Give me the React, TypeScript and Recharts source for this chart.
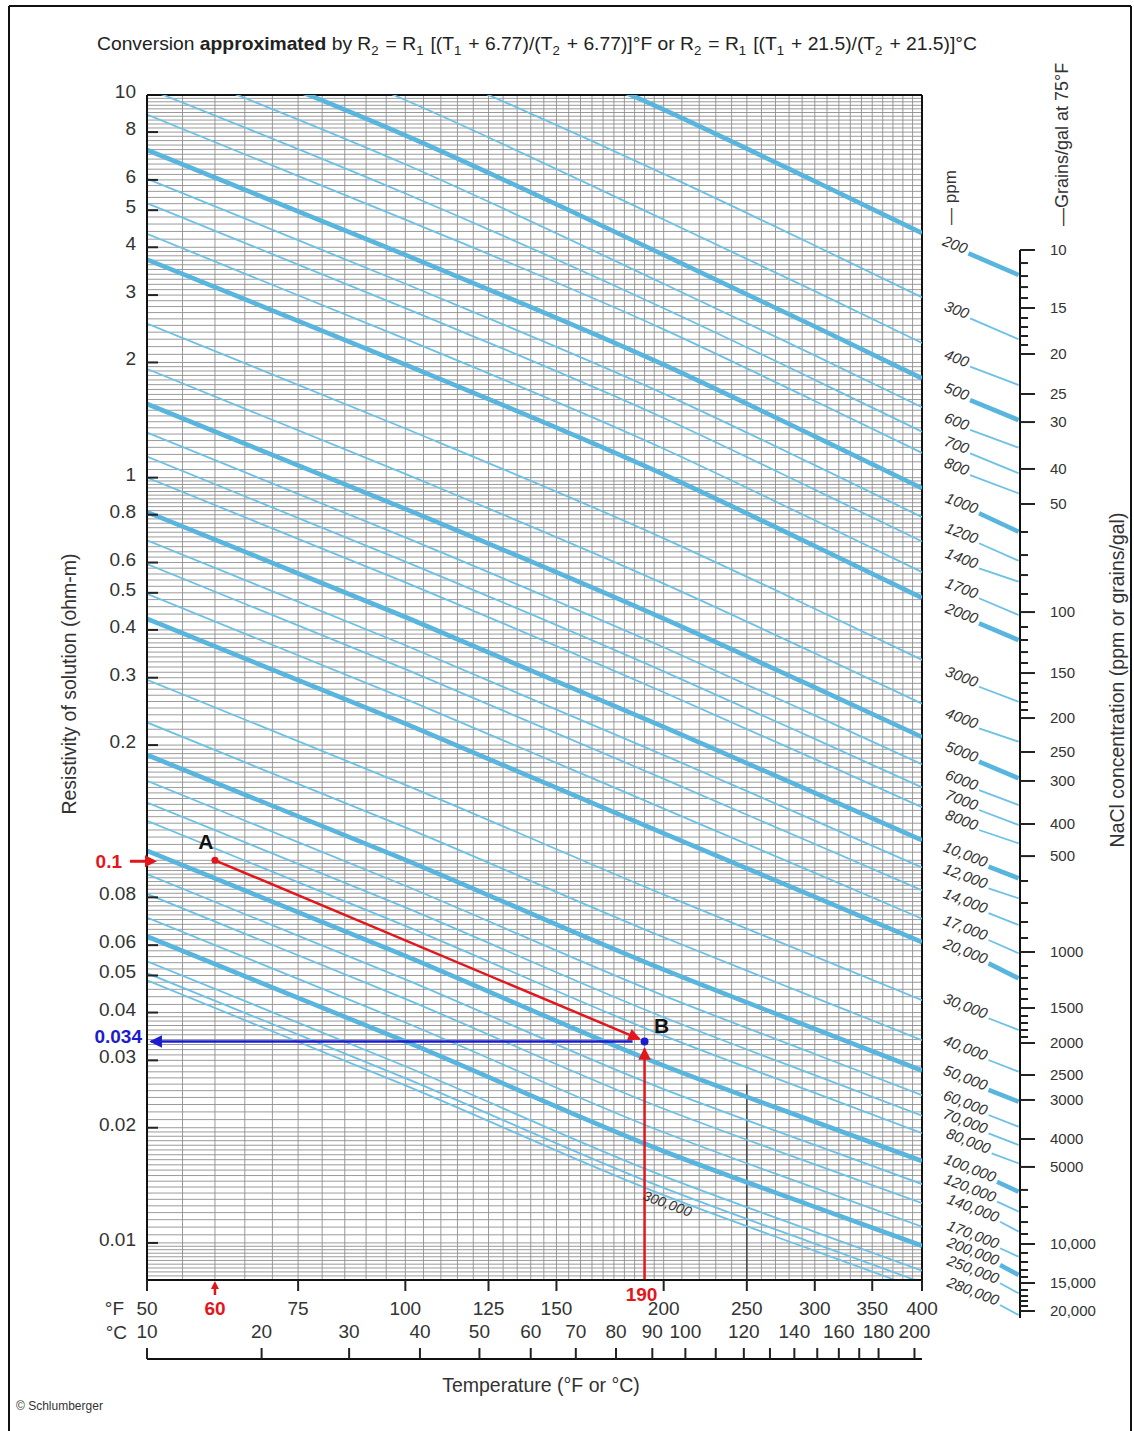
import React from 'react';
import { LineChart, Line, XAxis, YAxis, ReferenceLine } from 'recharts';

const W = 1134;
const H = 1431;
const FONT = '"Liberation Sans", Arial, Helvetica, sans-serif';
const RED = '#e3161c';
const BLUE = '#1b1bd0';
const THICK = '#58b5de';
const THIN = '#6cc1e6';
const GRID = '#8f8f8f';

// Temperatures (°F) at which each concentration curve was read
const curveTemps = [50, 100, 200, 300, 400];

// NaCl concentration of each curve (ppm)
const concentrations = [
  200, 300, 400, 500, 600, 700, 800, 1000, 1200, 1400, 1700, 2000, 3000, 4000, 5000, 6000, 7000, 8000,
  10000, 12000, 14000, 17000, 20000, 30000, 40000, 50000, 60000, 70000, 80000, 100000, 120000, 140000,
  170000, 200000, 250000, 280000, 300000,
];

// Curves drawn with a heavy line
const boldConcentrations = [200, 500, 1000, 2000, 5000, 10000, 20000, 50000, 100000, 200000];

// Resistivity (ohm-m) of each curve at curveTemps
const curveResistivity = [
  [33.35, 17.73, 9.156, 5.95, 4.355],
  [23.34, 12.41, 6.221, 4.043, 2.959],
  [18.25, 9.702, 4.726, 3.071, 2.248],
  [14.75, 7.843, 3.821, 2.483, 1.818],
  [12.4, 6.591, 3.211, 2.087, 1.528],
  [10.4, 5.529, 2.772, 1.801, 1.319],
  [8.889, 4.726, 2.441, 1.586, 1.161],
  [7.185, 3.82, 1.973, 1.282, 0.9384],
  [6.04, 3.211, 1.658, 1.078, 0.7889],
  [5.216, 2.773, 1.432, 0.9306, 0.6813],
  [4.336, 2.305, 1.19, 0.7736, 0.5663],
  [3.715, 1.975, 1.02, 0.6628, 0.4852],
  [2.528, 1.344, 0.6941, 0.4543, 0.3341],
  [1.924, 1.023, 0.5284, 0.3476, 0.2567],
  [1.558, 0.8287, 0.4279, 0.283, 0.2099],
  [1.312, 0.6977, 0.3603, 0.2392, 0.1782],
  [1.135, 0.6035, 0.3117, 0.2076, 0.1551],
  [1.001, 0.5323, 0.2749, 0.1838, 0.1376],
  [0.813, 0.4323, 0.2232, 0.15, 0.1128],
  [0.6859, 0.3647, 0.1883, 0.127, 0.09572],
  [0.5943, 0.316, 0.1632, 0.1103, 0.08343],
  [0.4968, 0.2642, 0.1364, 0.09268, 0.07036],
  [0.4278, 0.2275, 0.1175, 0.08022, 0.06112],
  [0.2961, 0.1575, 0.08131, 0.05607, 0.0431],
  [0.2292, 0.1219, 0.06292, 0.04377, 0.03387],
  [0.1885, 0.1003, 0.05177, 0.03626, 0.02821],
  [0.1613, 0.08578, 0.0443, 0.03117, 0.02434],
  [0.1416, 0.07529, 0.03888, 0.02744, 0.0215],
  [0.1268, 0.0674, 0.0348, 0.02466, 0.01935],
  [0.1059, 0.05629, 0.02907, 0.02073, 0.01637],
  [0.0919, 0.04886, 0.02523, 0.01803, 0.01425],
  [0.08167, 0.04343, 0.02242, 0.01604, 0.0127],
  [0.07087, 0.03768, 0.01946, 0.01392, 0.01102],
  [0.06323, 0.03362, 0.01736, 0.01242, 0.00983],
  [0.05445, 0.02895, 0.01495, 0.01069, 0.008463],
  [0.0507, 0.02696, 0.01392, 0.009958, 0.007881],
  [0.04854, 0.02581, 0.01333, 0.009534, 0.007545],
];

// Short extension segments feeding the concentration scale (right nomograph)
const segStartTemp = [
  453, 455, 455, 455, 455, 455, 455, 466, 466, 466, 466, 466, 466, 466, 466, 466, 466, 466,
  478, 478, 478, 478, 478, 478, 478, 478, 478, 478, 482, 489, 489, 493, 493, 493, 493, 493,
];
const segEndTemp = 518;
const segStartR = [
  3.862, 2.612, 1.953, 1.598, 1.335, 1.16, 1.018, 0.809, 0.6754, 0.581, 0.4853, 0.4174, 0.2851, 0.2221,
  0.1817, 0.1532, 0.1359, 0.1205, 0.09663, 0.08486, 0.07313, 0.0622, 0.05404, 0.03885, 0.03023, 0.02525,
  0.02172, 0.01945, 0.01725, 0.01454, 0.0129, 0.01143, 0.009745, 0.008814, 0.007897, 0.00693,
];
const segEndR = [
  3.389, 2.303, 1.749, 1.417, 1.2, 1.029, 0.9122, 0.7241, 0.6083, 0.5362, 0.4388, 0.3775, 0.2605, 0.2049,
  0.1644, 0.14, 0.1242, 0.1112, 0.09013, 0.0799, 0.06806, 0.05741, 0.04939, 0.0362, 0.02818, 0.02352,
  0.02024, 0.01813, 0.01624, 0.01369, 0.01215, 0.01077, 0.009265, 0.008299, 0.007435, 0.006525,
];

// Grains/gal scale: tick values and the resistivity level each sits at
const grainTicks = [
  10, 11, 12, 13, 14, 15, 16, 17, 18, 19, 20, 25, 30, 40, 50, 60, 70, 80, 90, 100, 110, 120, 130, 140, 150,
  160, 170, 180, 190, 200, 250, 300, 400, 500, 600, 700, 800, 900, 1000, 1100, 1200, 1300, 1400, 1500,
  1600, 1700, 1800, 1900, 2000, 2500, 3000, 4000, 5000, 6000, 7000, 8000, 9000, 10000, 11000, 12000,
  13000, 14000, 15000, 16000, 17000, 18000, 19000, 20000,
];
const grainTickR = [
  3.939, 3.642, 3.368, 3.152, 2.951, 2.779, 2.617, 2.479, 2.349, 2.225, 2.108, 1.657, 1.4, 1.056, 0.8554,
  0.7228, 0.6293, 0.558, 0.498, 0.4467, 0.4083, 0.3776, 0.3512, 0.3288, 0.3096, 0.2915, 0.2746, 0.2601,
  0.2479, 0.2362, 0.1926, 0.1618, 0.1249, 0.103, 0.08867, 0.07769, 0.06929, 0.06295, 0.05786, 0.0532,
  0.0495, 0.04633, 0.04362, 0.04132, 0.03938, 0.03776, 0.0362, 0.03471, 0.03348, 0.02762, 0.02377,
  0.0188, 0.01589, 0.01384, 0.01249, 0.01141, 0.01062, 0.01, 0.009474, 0.008974, 0.008553, 0.0082,
  0.007909, 0.007584, 0.007315, 0.007098, 0.006888, 0.006684,
];
const grainLabeled = [10, 15, 20, 25, 30, 40, 50, 100, 150, 200, 250, 300, 400, 500, 1000, 1500, 2000, 2500, 3000, 4000, 5000, 10000, 15000, 20000];

// Axis ticks
const yTicks = [10, 8, 6, 5, 4, 3, 2, 1, 0.8, 0.6, 0.5, 0.4, 0.3, 0.2, 0.1, 0.08, 0.06, 0.05, 0.04, 0.034, 0.03, 0.02, 0.01];
const fTicks = [50, 60, 75, 100, 125, 150, 190, 200, 250, 300, 350, 400];
const cTicks = [10, 20, 30, 40, 50, 60, 70, 80, 90, 100, 110, 120, 130, 140, 150, 160, 170, 180, 200];
const cLabeled = [10, 20, 30, 40, 50, 60, 70, 80, 90, 100, 120, 140, 160, 180, 200];

// Worked example: A (60 °F, 0.1 ohm-m) -> B (190 °F, 0.034 ohm-m)
const exampleAB = [
  { t: 60, r: 0.1 },
  { t: 187.5, r: 0.0341 },
];
const exampleBlue = [
  { t: 184, r: 0.0336 },
  { t: 50.5, r: 0.0336 },
];
const exampleUp = [
  { t: 190, r: 0.008 },
  { t: 190, r: 0.0322 },
];
const exampleB = [{ t: 190, r: 0.0336 }];

// ---- grid values (paper ruling) ----
const hGrid: number[] = (() => {
  const out: number[] = [];
  const push = (v: number) => {
    const r = +v.toPrecision(6);
    if (r >= 0.008 - 1e-12 && r <= 10 + 1e-9 && !out.includes(r)) out.push(r);
  };
  [0.001, 0.01, 0.1, 1].forEach((d) => {
    for (let k = 0; k <= 20; k++) push((1 + k * 0.05) * d);
    for (let k = 1; k <= 20; k++) push((2 + k * 0.1) * d);
    for (let k = 1; k <= 30; k++) push((4 + k * 0.2) * d);
  });
  return out;
})();
const vGrid: number[] = (() => {
  const out: number[] = [];
  for (let t = 55; t <= 200; t += 5) out.push(t);
  for (let t = 210; t < 400; t += 10) out.push(t);
  return out;
})();

const fmtNum = (n: number) => (n >= 10000 ? n.toLocaleString('en-US') : String(n));

// ---- tick renderers ----
const renderYTick = (props: any) => {
  const { x, y, payload } = props;
  const v = payload.value;
  if (v === 0.1) {
    return (
      <g>
        <text x={x - 25} y={y + 8} textAnchor="end" fontFamily={FONT} fontSize={19} fontWeight="bold" fill={RED}>0.1</text>
        <line x1={x - 17} y1={y + 1} x2={x} y2={y + 1} stroke={RED} strokeWidth={3} />
        <polygon points={`${x + 10},${y + 1} ${x - 2},${y - 5} ${x - 2},${y + 7}`} fill={RED} />
      </g>
    );
  }
  if (v === 0.034) {
    return (
      <text x={x - 5} y={y + 3} textAnchor="end" fontFamily={FONT} fontSize={19} fontWeight="bold" fill={BLUE}>0.034</text>
    );
  }
  return (
    <g>
      {v !== 10 && <line x1={x} y1={y} x2={x + 11} y2={y} stroke="#222" strokeWidth={2} />}
      <text x={x - 11} y={y + 3} textAnchor="end" fontFamily={FONT} fontSize={19} fill="#333">{String(v)}</text>
    </g>
  );
};

const renderFTick = (props: any) => {
  const { x, y, payload } = props;
  const v = payload.value;
  if (v === 60) {
    return (
      <g>
        <line x1={x} y1={y + 15} x2={x} y2={y + 7} stroke={RED} strokeWidth={2.5} />
        <polygon points={`${x},${y + 1} ${x - 4},${y + 9} ${x + 4},${y + 9}`} fill={RED} />
        <text x={x} y={y + 35} textAnchor="middle" fontFamily={FONT} fontSize={19} fontWeight="bold" fill={RED}>60</text>
      </g>
    );
  }
  if (v === 190) {
    return (
      <text x={x - 3} y={y + 21} textAnchor="middle" fontFamily={FONT} fontSize={19} fontWeight="bold" fill={RED}>190</text>
    );
  }
  return (
    <g>
      <line x1={x} y1={y} x2={x} y2={y + 11} stroke="#222" strokeWidth={2} />
      <text x={x} y={y + 35} textAnchor="middle" fontFamily={FONT} fontSize={19} fill="#333">{v}</text>
    </g>
  );
};

const renderCTick = (props: any) => {
  const { x, y, payload } = props;
  const c = Math.round((payload.value - 32) / 1.8);
  return (
    <g>
      <line x1={x} y1={y} x2={x} y2={y - 11} stroke="#222" strokeWidth={2} />
      {cLabeled.includes(c) && (
        <text x={x} y={y - 21} textAnchor="middle" fontFamily={FONT} fontSize={19} fill="#333">{c}</text>
      )}
    </g>
  );
};

const renderGrainTick = (props: any) => {
  const { x, y, index } = props;
  const g = grainTicks[index];
  const major = grainLabeled.includes(g);
  return (
    <g>
      <line x1={x} y1={y} x2={x + (major ? 15 : 8)} y2={y} stroke="#222" strokeWidth={2} />
      {major && (
        <text x={x + 30} y={y + 5} fontFamily={FONT} fontSize={15} fill="#333">{fmtNum(g)}</text>
      )}
    </g>
  );
};

const make300kLabel = (p: any) => {
  if (p.index !== 2) return <g key={`l300-${p.index}`} />;
  const cx = p.cx + 2;
  const cy = p.cy + 13;
  return (
    <text key="l300" x={cx} y={cy} textAnchor="middle" transform={`rotate(20 ${cx} ${cy})`} fontFamily={FONT} fontSize={14} fontStyle="italic" fill="#333">300,000</text>
  );
};

const renderADot = (p: any) => {
  if (p.index !== 0) return <g key={`a-${p.index}`} />;
  return (
    <g key="a0">
      <circle cx={p.cx} cy={p.cy} r={3.5} fill={RED} />
      <text x={p.cx - 9} y={p.cy - 11} textAnchor="middle" fontFamily={FONT} fontSize={21} fontWeight="bold" fill="#111">A</text>
    </g>
  );
};

const renderBDot = (p: any) => (
  <g key={`b-${p.index}`}>
    <circle cx={p.cx} cy={p.cy} r={4} fill={BLUE} />
    <text x={p.cx + 17} y={p.cy - 9} textAnchor="middle" fontFamily={FONT} fontSize={21} fontWeight="bold" fill="#111">B</text>
  </g>
);

const MainChart = () => (
  <LineChart width={W} height={H} margin={{ top: 95, right: 212, bottom: 0, left: 87 }}>
    <XAxis
      xAxisId="tc" type="number" dataKey="t" scale="log" domain={[50, 400]} allowDataOverflow
      ticks={cTicks.map((c) => c * 1.8 + 32)} interval={0} height={72} tickSize={0} tickMargin={0} tickLine={false}
      axisLine={{ stroke: '#111', strokeWidth: 2 }} tick={renderCTick}
    />
    <XAxis
      xAxisId="f" type="number" dataKey="t" scale="log" domain={[50, 400]} allowDataOverflow
      ticks={fTicks} interval={0} height={79} tickSize={0} tickMargin={0} tickLine={false}
      axisLine={{ stroke: '#111', strokeWidth: 2 }} tick={renderFTick}
    />
    <YAxis
      type="number" dataKey="r" scale="log" domain={[0.008, 10]} allowDataOverflow
      ticks={yTicks} interval={0} width={60} tickSize={0} tickMargin={0} tickLine={false}
      axisLine={{ stroke: '#111', strokeWidth: 2 }} tick={renderYTick}
    />
    {hGrid.map((v) => (
      <ReferenceLine key={`h${v}`} xAxisId="f" y={v} stroke={GRID} strokeWidth={0.9} />
    ))}
    {vGrid.map((v) => (
      <ReferenceLine key={`v${v}`} xAxisId="f" x={v} stroke={GRID} strokeWidth={0.9} />
    ))}
    <ReferenceLine xAxisId="f" segment={[{ x: 250, y: 0.026 }, { x: 250, y: 0.008 }]} stroke="#444" strokeWidth={1.5} />
    <ReferenceLine xAxisId="f" y={10} stroke="#111" strokeWidth={2} ifOverflow="visible" />
    <ReferenceLine xAxisId="f" x={400} stroke="#111" strokeWidth={2} ifOverflow="visible" />
    {concentrations.map((c, i) => {
      const bold = boldConcentrations.includes(c);
      return (
        <Line
          key={`c${c}`} xAxisId="f" dataKey="r" type="monotone"
          data={curveTemps.map((t, j) => ({ t, r: curveResistivity[i][j] }))}
          stroke={bold ? THICK : THIN} strokeWidth={bold ? 4.6 : 1.8}
          dot={c === 300000 ? make300kLabel : false} activeDot={false} isAnimationActive={false}
        />
      );
    })}
    <Line xAxisId="f" dataKey="r" type="linear" data={exampleAB} stroke={RED} strokeWidth={2.5} markerEnd="url(#arrowRed)" dot={renderADot} activeDot={false} isAnimationActive={false} />
    <Line xAxisId="f" dataKey="r" type="linear" data={exampleBlue} stroke={BLUE} strokeWidth={2.5} markerEnd="url(#arrowBlue)" dot={false} activeDot={false} isAnimationActive={false} />
    <Line xAxisId="f" dataKey="r" type="linear" data={exampleUp} stroke={RED} strokeWidth={2.5} markerEnd="url(#arrowRed)" dot={false} activeDot={false} isAnimationActive={false} />
    <Line xAxisId="f" dataKey="r" type="linear" data={exampleB} stroke={BLUE} dot={renderBDot} activeDot={false} isAnimationActive={false} />
  </LineChart>
);

const renderPpmLabel = (c: number) => (p: any) => {
  if (p.index !== 0) return <g key={`p${c}-${p.index}`} />;
  const x = p.cx - 3;
  const y = p.cy + 2;
  return (
    <text key={`p${c}`} x={x} y={y} textAnchor="end" transform={`rotate(21 ${p.cx} ${p.cy})`} fontFamily={FONT} fontSize={15} fontStyle="italic" fill="#333">{fmtNum(c)}</text>
  );
};

const NomoChart = () => (
  <LineChart width={W} height={H} margin={{ top: 250, right: 14, bottom: 113, left: 922 }}>
    <XAxis xAxisId="x" type="number" dataKey="t" scale="log" domain={[400, 520]} hide />
    <YAxis
      yAxisId="g" orientation="right" type="number" dataKey="r" scale="log" domain={[0.006408, 3.939]}
      ticks={grainTickR} interval={0} width={100} tickSize={0} tickMargin={0} tickLine={false}
      axisLine={{ stroke: '#111', strokeWidth: 2 }} tick={renderGrainTick}
    />
    {concentrations.slice(0, segStartTemp.length).map((c, i) => {
      const bold = boldConcentrations.includes(c);
      return (
        <Line
          key={`s${c}`} xAxisId="x" yAxisId="g" dataKey="r" type="linear"
          data={[{ t: segStartTemp[i], r: segStartR[i] }, { t: segEndTemp, r: segEndR[i] }]}
          stroke={bold ? THICK : THIN} strokeWidth={bold ? 4.6 : 1.8}
          dot={renderPpmLabel(c)} activeDot={false} isAnimationActive={false}
        />
      );
    })}
  </LineChart>
);

const Sub = ({ children }: any) => (
  <>
    <tspan dy={5} fontSize={13}>{children}</tspan>
    <tspan dy={-5}>{'\u200a'}</tspan>
  </>
);

const StaticLayer = () => (
  <svg width={W} height={H} style={{ position: 'absolute', left: 0, top: 0, pointerEvents: 'none' }}>
    <defs>
      <marker id="arrowRed" viewBox="0 0 10 10" refX="9" refY="5" markerWidth="6" markerHeight="5" orient="auto" markerUnits="strokeWidth">
        <path d="M0,0 L10,5 L0,10 z" fill={RED} />
      </marker>
      <marker id="arrowBlue" viewBox="0 0 10 10" refX="9" refY="5" markerWidth="6" markerHeight="5" orient="auto" markerUnits="strokeWidth">
        <path d="M0,0 L10,5 L0,10 z" fill={BLUE} />
      </marker>
    </defs>
    <line x1={9} y1={6} x2={1131} y2={6} stroke="#111" strokeWidth={2} />
    <line x1={9} y1={6} x2={9} y2={H} stroke="#111" strokeWidth={2} />
    <line x1={1131} y1={6} x2={1131} y2={H} stroke="#111" strokeWidth={2} />
    <text x={97} y={50} fontFamily={FONT} fontSize={19} fill="#222" textLength={880} lengthAdjust="spacingAndGlyphs">
      Conversion <tspan fontWeight="bold">approximated</tspan> by R<Sub>2</Sub> = R<Sub>1</Sub> [(T<Sub>1</Sub> + 6.77)/(T<Sub>2</Sub> + 6.77)]°F or R<Sub>2</Sub>{' '} = R<Sub>1</Sub> [(T<Sub>1</Sub> + 21.5)/(T<Sub>2</Sub> + 21.5)]°C
    </text>
    <text transform="translate(76 684) rotate(-90)" textAnchor="middle" fontFamily={FONT} fontSize={19.5} fill="#333">Resistivity of solution (ohm-m)</text>
    <text x={541} y={1392} textAnchor="middle" fontFamily={FONT} fontSize={19.5} fill="#333">Temperature (°F or °C)</text>
    <text x={124} y={1315} textAnchor="end" fontFamily={FONT} fontSize={19} fill="#333">°F</text>
    <text x={127} y={1339} textAnchor="end" fontFamily={FONT} fontSize={19} fill="#333">°C</text>
    <text transform="translate(956 225) rotate(-90)" fontFamily={FONT} fontSize={17} fill="#333">— ppm</text>
    <text transform="translate(1068 226) rotate(-90)" fontFamily={FONT} fontSize={18} fill="#333">—Grains/gal at 75°F</text>
    <text transform="translate(1124 680) rotate(-90)" textAnchor="middle" fontFamily={FONT} fontSize={19.5} fill="#333">NaCl concentration (ppm or grains/gal)</text>
    <text x={16} y={1410} fontFamily={FONT} fontSize={12} fill="#333">© Schlumberger</text>
  </svg>
);

export default function App() {
  return (
    <div style={{ position: 'absolute', left: 0, top: 0, width: W, height: H, background: '#fff' }}>
      <div style={{ position: 'absolute', left: 0, top: 0 }}>
        <MainChart />
      </div>
      <div style={{ position: 'absolute', left: 0, top: 0 }}>
        <NomoChart />
      </div>
      <StaticLayer />
    </div>
  );
}
